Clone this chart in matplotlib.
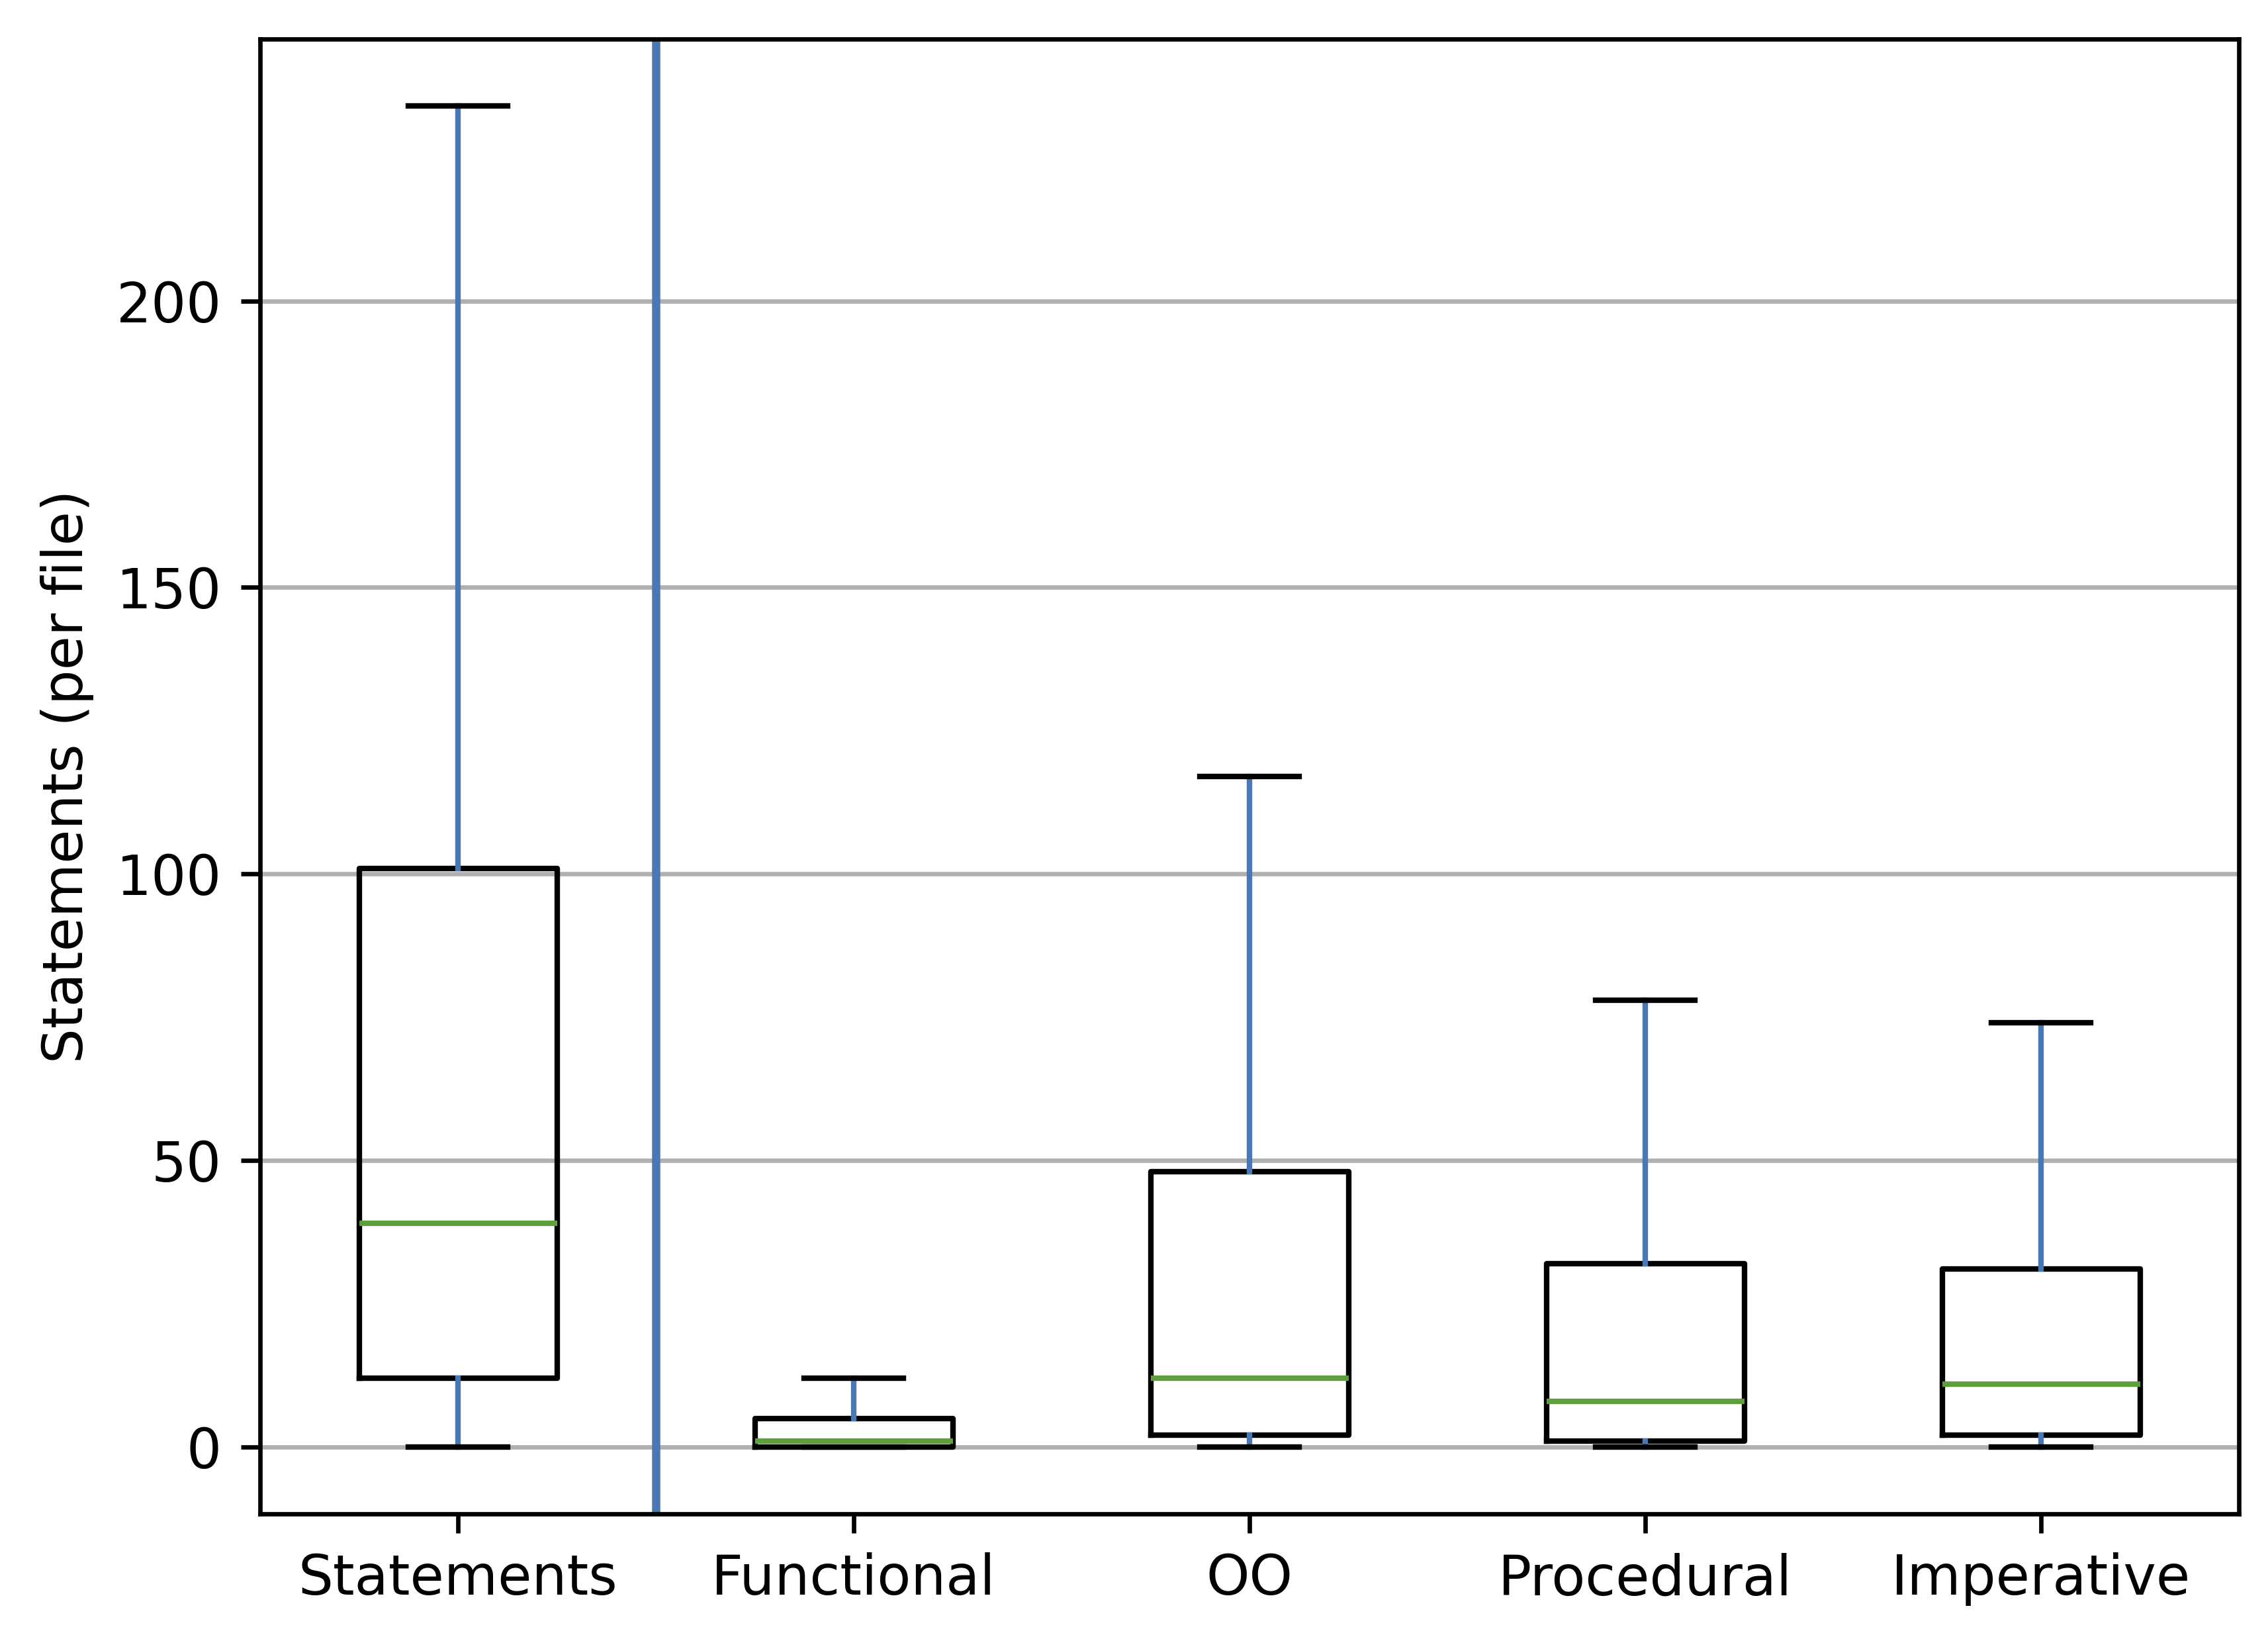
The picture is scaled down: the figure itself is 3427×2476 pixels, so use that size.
import matplotlib
matplotlib.use("Agg")
import matplotlib.pyplot as plt

# Box statistics
labels = ["Statements", "Functional", "OO", "Procedural", "Imperative"]
whislo = [0, 0, 0, 0, 0]
q1 = [12, 0, 2, 1, 2]
med = [39, 1, 12, 8, 11]
q3 = [101, 5, 48, 32, 31]
whishi = [234, 12, 117, 78, 74]

stats = []
for i in range(len(labels)):
    stats.append({"label": labels[i], "whislo": whislo[i], "q1": q1[i],
                  "med": med[i], "q3": q3[i], "whishi": whishi[i], "fliers": []})

blue = "#4a78b5"
green = "#5f9e3c"

fig = plt.figure(figsize=(3427 / 600, 2476 / 600), dpi=600)
ax = fig.add_axes([0.1147, 0.0763, 0.8725, 0.8999])

ax.bxp(stats, showfliers=False,
       boxprops=dict(color="black", linewidth=1.0),
       whiskerprops=dict(color=blue, linewidth=1.0),
       capprops=dict(color="black", linewidth=1.0),
       medianprops=dict(color=green, linewidth=1.0))

ax.axvline(1.5, color=blue, linewidth=1.5)
ax.yaxis.grid(True, color="#b0b0b0", linewidth=0.8)
ax.set_axisbelow(True)
ax.set_ylabel("Statements (per file)")
ax.set_xlim(0.5, 5.5)

plt.savefig("out.png", dpi=600)
